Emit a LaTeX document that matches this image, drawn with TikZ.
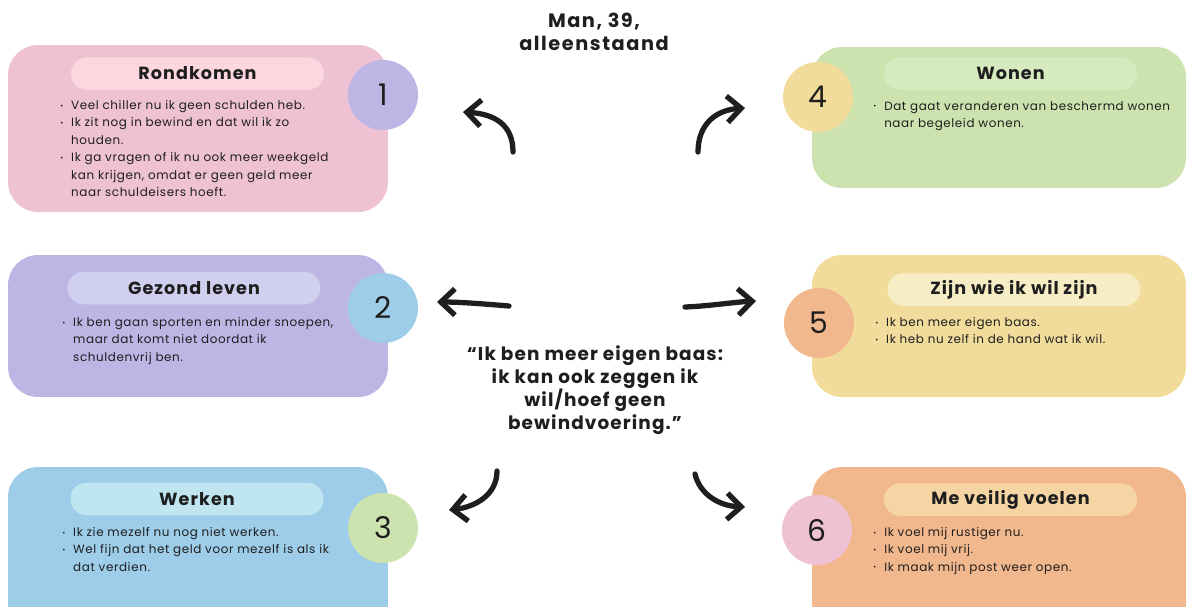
\documentclass[tikz,border=0pt]{standalone}
\usepackage{fontspec}
\setmainfont{Poppins}
\newfontfamily\bodyfont{Poppins}[LetterSpace=5]
\newfontfamily\headfont{Poppins}[LetterSpace=6]
\newfontfamily\bigfont{Poppins}[LetterSpace=8]
\usetikzlibrary{arrows.meta, positioning}

\definecolor{pinkbox}{HTML}{EEC1D3}
\definecolor{pinkpill}{HTML}{FDD7DF}
\definecolor{lavbox}{HTML}{BDB6E5}
\definecolor{lavpill}{HTML}{D1CFEF}
\definecolor{bluebox}{HTML}{9DCDE9}
\definecolor{bluepill}{HTML}{BFE5F1}
\definecolor{greenbox}{HTML}{CDE3AF}
\definecolor{greenpill}{HTML}{D6EABF}
\definecolor{yelbox}{HTML}{F1DC9B}
\definecolor{yelpill}{HTML}{F6EDC4}
\definecolor{orbox}{HTML}{F2B88D}
\definecolor{orpill}{HTML}{F6D5A4}
\definecolor{ink}{HTML}{1E1E1E}

\newcommand\bul{\makebox[6.2pt][l]{\raisebox{0.2ex}{\scalebox{0.6}{\textbullet}}}}
\newcommand\ind{\hspace*{6.2pt}}

\begin{document}
\begin{tikzpicture}[x=0.02cm, y=-0.02cm, text=ink,
    >={Straight Barb[length=8pt, width=15pt]},
    box/.style={rounded corners=0.6cm, inner sep=0, minimum width=7.6cm},
    pill/.style={rounded corners=0.32cm, inner sep=0, minimum width=5.06cm,
      minimum height=0.65cm, font=\headfont\bfseries\fontsize{10}{12}\selectfont},
    num/.style={circle, inner sep=0, minimum size=1.4cm,
      font=\fontsize{17}{20}\selectfont},
    body/.style={anchor=north west, inner sep=0, align=left,
      font=\bodyfont\fontsize{6.8}{9.9}\selectfont},
    arr/.style={->, line width=3pt, line cap=round, ink}]

    \useasboundingbox (0,0) rectangle (1188,606);
    \clip (0,0) rectangle (1188,606);

    \node[box, fill=pinkbox, minimum height=3.34cm] (box1) at (198,128.5) {};
    \node[box, fill=lavbox, minimum height=2.84cm] (box2) at (198,326) {};
    \node[box, fill=bluebox, minimum height=3.46cm] (box3) at (198,553.5) {};
    \node[box, fill=greenbox, minimum width=7.48cm, minimum height=2.82cm] (box4) at (999,117.5) {};
    \node[box, fill=yelbox, minimum width=7.48cm, minimum height=2.84cm] (box5) at (999,326) {};
    \node[box, fill=orbox, minimum width=7.48cm, minimum height=3.46cm] (box6) at (999,553.5) {};

    \node[pill, fill=pinkpill] (pill1) at (197.5,73.5) {Rondkomen};
    \node[pill, fill=lavpill] (pill2) at (194,288) {Gezond leven};
    \node[pill, fill=bluepill] (pill3) at (197,499) {Werken};
    \node[pill, fill=greenpill] (pill4) at (1010.5,73.5) {Wonen};
    \node[pill, fill=yelpill] (pill5) at (1014,289.5) {Zijn wie ik wil zijn};
    \node[pill, fill=orpill] (pill6) at (1010.5,499.5) {Me veilig voelen};

    \node[num, fill=lavbox] (num1) at (383,95) {1};
    \node[num, fill=bluebox] (num2) at (383,308) {2};
    \node[num, fill=greenbox] (num3) at (383,528) {3};
    \node[num, fill=yelbox] (num4) at (818,97) {4};
    \node[num, fill=orbox] (num5) at (819,323) {5};
    \node[num, fill=pinkbox] (num6) at (817,530) {6};

    \node[body] (txt1) at (60,100) {\bul Veel chiller nu ik geen schulden heb.\\
      \bul Ik zit nog in bewind en dat wil ik zo\\ \ind houden.\\
      \bul Ik ga vragen of ik nu ook meer weekgeld\\
      \ind kan krijgen, omdat er geen geld meer\\ \ind naar schuldeisers hoeft.};
    \node[body] (txt2) at (62,317) {\bul Ik ben gaan sporten en minder snoepen,\\
      \ind maar dat komt niet doordat ik\\ \ind schuldenvrij ben.};
    \node[body] (txt3) at (62,527) {\bul Ik zie mezelf nu nog niet werken.\\
      \bul Wel fijn dat het geld voor mezelf is als ik\\ \ind dat verdien.};
    \node[body] (txt4) at (873,101) {\bul Dat gaat veranderen van beschermd wonen\\
      \ind naar begeleid wonen.};
    \node[body] (txt5) at (875,317) {\bul Ik ben meer eigen baas.\\
      \bul Ik heb nu zelf in de hand wat ik wil.};
    \node[body] (txt6) at (873,527) {\bul Ik voel mij rustiger nu.\\
      \bul Ik voel mij vrij.\\ \bul Ik maak mijn post weer open.};

    \node[align=center, font=\bigfont\bfseries\fontsize{11}{13}\selectfont] (head) at (594,32)
      {Man, 39,\\ alleenstaand};
    \node[align=center, font=\headfont\bfseries\fontsize{10.5}{13}\selectfont] (quote) at (595,390)
      {“Ik ben meer eigen baas:\\ ik kan ook zeggen ik\\ wil/hoef geen\\ bewindvoering.”};

    \coordinate (from1) at (513,152);
    \coordinate (to1) at (463,112);
    \coordinate (from4) at (698,152);
    \coordinate (to4) at (745,108);
    \coordinate (from2) at (509,306);
    \coordinate (to2) at (437,302);
    \coordinate (from5) at (685,307);
    \coordinate (to5) at (756,301);
    \coordinate (from3) at (497,471);
    \coordinate (to3) at (449,510);
    \coordinate (from6) at (695,474);
    \coordinate (to6) at (745,507);

    \draw[arr] (from1) .. controls (513,125) and (495,114) .. (to1);
    \draw[arr] (from4) .. controls (698,125) and (715,110) .. (to4);
    \draw[arr] (from2) .. controls (485,304) and (460,302) .. (to2);
    \draw[arr] (from5) .. controls (710,306) and (735,302) .. (to5);
    \draw[arr] (from3) .. controls (497,495) and (475,507) .. (to3);
    \draw[arr] (from6) .. controls (700,495) and (720,506) .. (to6);
\end{tikzpicture}
\end{document}
